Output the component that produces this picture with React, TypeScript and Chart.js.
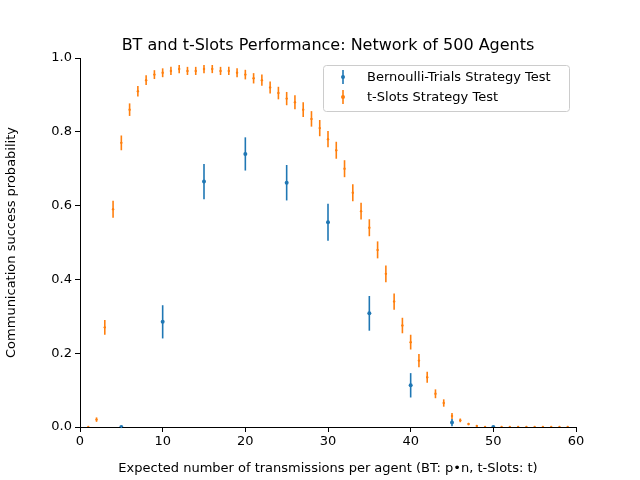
import React, { useEffect, useRef } from 'react';
import Chart from 'chart.js/auto';

const btX = [5, 10, 15, 20, 25, 30, 35, 40, 45, 50];
const btY = [0.0, 0.285, 0.665, 0.74, 0.662, 0.555, 0.308, 0.113, 0.012, 0.0];
const btErr = [0.003, 0.045, 0.048, 0.045, 0.048, 0.05, 0.047, 0.033, 0.01, 0.0];

const tsX = [1, 2, 3, 4, 5, 6, 7, 8, 9, 10, 11, 12, 13, 14, 15, 16, 17, 18, 19, 20,
  21, 22, 23, 24, 25, 26, 27, 28, 29, 30, 31, 32, 33, 34, 35, 36, 37, 38, 39, 40,
  41, 42, 43, 44, 45, 46, 47, 48, 49, 50, 51, 52, 53, 54, 55, 56, 57, 58, 59];
const tsY = [0.0, 0.02, 0.27, 0.59, 0.77, 0.86, 0.91, 0.94, 0.955, 0.96, 0.965, 0.97, 0.965, 0.965, 0.97, 0.97, 0.965, 0.965, 0.96, 0.955,
  0.945, 0.94, 0.92, 0.905, 0.89, 0.88, 0.86, 0.835, 0.81, 0.78, 0.75, 0.70, 0.635, 0.585, 0.54, 0.48, 0.415, 0.34, 0.275, 0.23,
  0.18, 0.135, 0.09, 0.065, 0.03, 0.018, 0.008, 0.003, 0, 0, 0, 0, 0, 0, 0, 0, 0, 0, 0];
const tsErr = [0.0, 0.006, 0.02, 0.023, 0.02, 0.017, 0.014, 0.013, 0.012, 0.012, 0.011, 0.011, 0.011, 0.011, 0.011, 0.011, 0.011, 0.011, 0.012, 0.013,
  0.014, 0.015, 0.016, 0.017, 0.018, 0.019, 0.02, 0.021, 0.022, 0.022, 0.023, 0.023, 0.023, 0.023, 0.023, 0.023, 0.023, 0.022, 0.021, 0.02,
  0.018, 0.015, 0.012, 0.01, 0.008, 0.005, 0.003, 0.002, 0, 0, 0, 0, 0, 0, 0, 0, 0, 0, 0];

const BLUE = '#1f77b4';
const ORANGE = '#ff7f0e';
const FONT = 'DejaVu Sans';

const errors = [btErr, tsErr];

const errorBarPlugin = {
  id: 'errorBars',
  beforeDatasetsDraw(chart: any) {
    const { ctx, scales } = chart;
    chart.data.datasets.forEach((ds: any, i: number) => {
      ctx.save();
      ctx.strokeStyle = ds.borderColor;
      ctx.lineWidth = 1.6;
      ds.data.forEach((p: any, j: number) => {
        const e = errors[i][j];
        const x = scales.x.getPixelForValue(p.x);
        ctx.beginPath();
        ctx.moveTo(x, scales.y.getPixelForValue(p.y - e));
        ctx.lineTo(x, scales.y.getPixelForValue(p.y + e));
        ctx.stroke();
      });
      ctx.restore();
    });
  },
  afterDraw(chart: any) {
    const { ctx, chartArea } = chart;
    ctx.save();
    ctx.fillStyle = '#000';
    ctx.font = `16px "${FONT}"`;
    ctx.textAlign = 'center';
    ctx.textBaseline = 'alphabetic';
    ctx.fillText('BT and t-Slots Performance: Network of 500 Agents', (chartArea.left + chartArea.right) / 2, 50);
    // legend
    const bx = 323, by = 65, bw = 246, bh = 46;
    ctx.fillStyle = 'rgba(255,255,255,0.8)';
    ctx.strokeStyle = '#cccccc';
    ctx.lineWidth = 1;
    ctx.beginPath();
    ctx.roundRect(bx + 0.5, by + 0.5, bw, bh, 3);
    ctx.fill();
    ctx.stroke();
    ctx.font = `13px "${FONT}"`;
    ctx.textAlign = 'left';
    ctx.textBaseline = 'middle';
    const items = [['Bernoulli-Trials Strategy Test', BLUE], ['t-Slots Strategy Test', ORANGE]];
    items.forEach(([label, color], k) => {
      const cy = by + 12 + k * 20;
      ctx.strokeStyle = color;
      ctx.lineWidth = 1.6;
      ctx.beginPath();
      ctx.moveTo(bx + 20, cy - 7);
      ctx.lineTo(bx + 20, cy + 7);
      ctx.stroke();
      ctx.fillStyle = color;
      ctx.beginPath();
      ctx.arc(bx + 20, cy, 2, 0, Math.PI * 2);
      ctx.fill();
      ctx.fillStyle = '#000';
      ctx.fillText(label, bx + 44, cy + 1);
    });
    ctx.restore();
  },
};

export default function App() {
  const canvasRef = useRef<HTMLCanvasElement>(null);

  useEffect(() => {
    document.body.style.margin = '0';
    if (!canvasRef.current) return;
    const tick = { color: '#000', font: { family: FONT, size: 13 } };
    const grid = { display: true, drawOnChartArea: false, drawTicks: true, tickLength: 5, color: '#000' };
    const chart = new Chart(canvasRef.current, {
      type: 'scatter',
      data: {
        datasets: [
          { label: 'Bernoulli-Trials Strategy Test', data: btX.map((x, i) => ({ x, y: btY[i] })), borderColor: BLUE, backgroundColor: BLUE, pointRadius: 2, pointBorderWidth: 0 },
          { label: 't-Slots Strategy Test', data: tsX.map((x, i) => ({ x, y: tsY[i] })), borderColor: ORANGE, backgroundColor: ORANGE, pointRadius: 1.2, pointBorderWidth: 0 },
        ],
      },
      options: {
        animation: false,
        responsive: false,
        layout: { padding: { top: 58, right: 64, left: 0, bottom: 0 } },
        plugins: { legend: { display: false }, tooltip: { enabled: false } },
        scales: {
          x: {
            min: 0, max: 60,
            ticks: { ...tick, stepSize: 10, padding: 2 },
            grid, border: { color: '#000', width: 1 },
            title: { display: true, text: 'Expected number of transmissions per agent (BT: p•n, t-Slots: t)', color: '#000', font: { family: FONT, size: 13 }, padding: { top: 0 } },
            afterFit: (s: any) => { s.height = 53; },
          },
          y: {
            min: 0, max: 1,
            ticks: { ...tick, stepSize: 0.2, padding: 3, callback: (v: any) => Number(v).toFixed(1) },
            grid, border: { color: '#000', width: 1 },
            title: { display: true, text: 'Communication success probability', color: '#000', font: { family: FONT, size: 13 }, padding: { bottom: 4 } },
            afterFit: (s: any) => { s.width = 80; },
          },
        },
      },
      plugins: [errorBarPlugin],
    });
    return () => chart.destroy();
  }, []);

  return <canvas ref={canvasRef} width={640} height={480} style={{ display: 'block' }} />;
}
